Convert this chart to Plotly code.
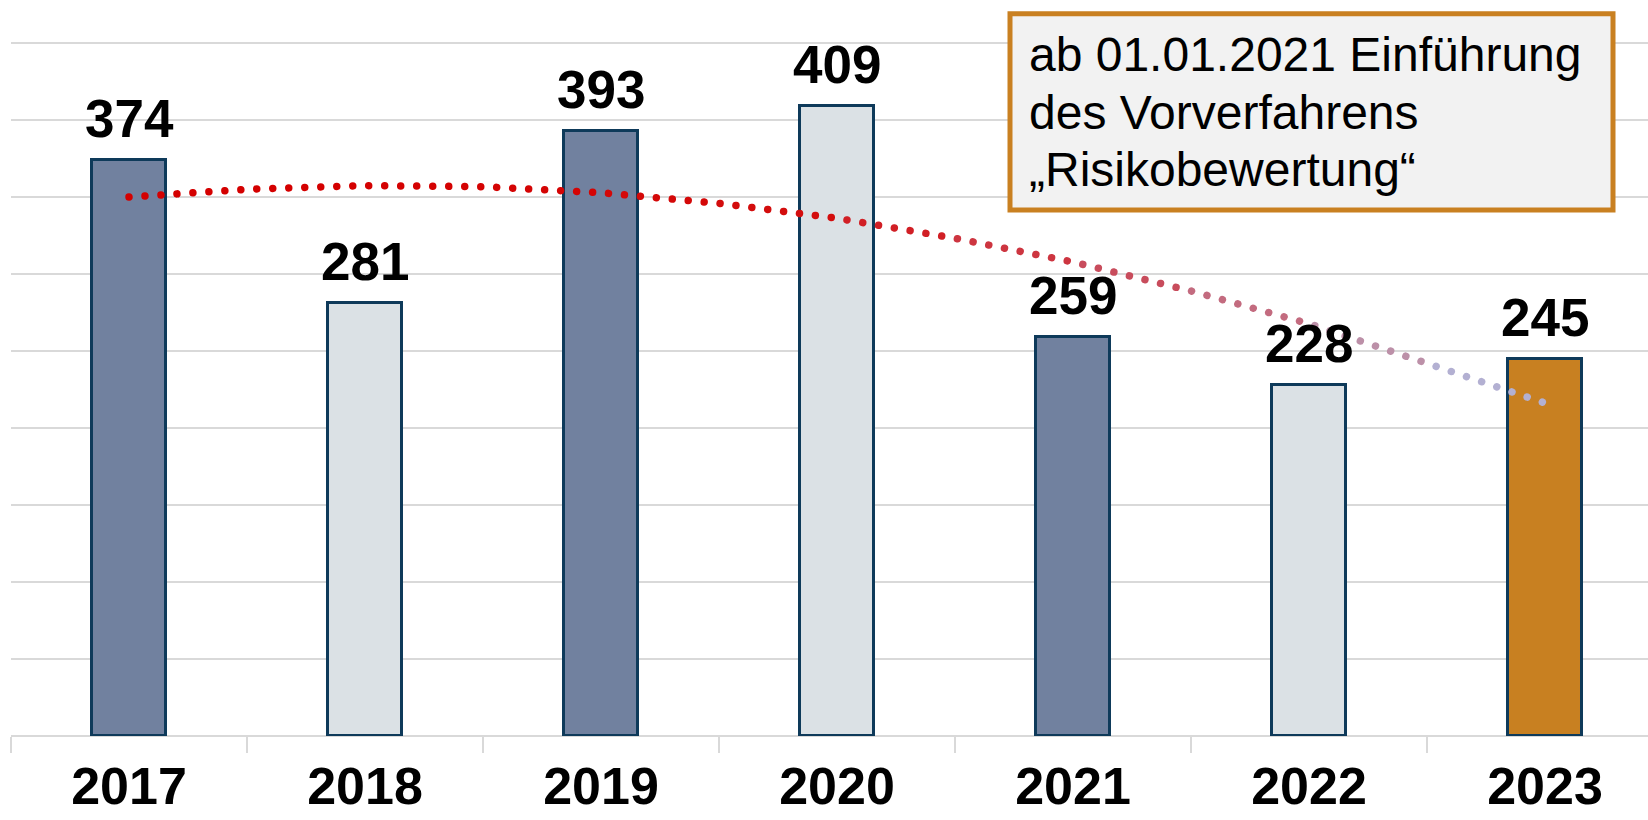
import plotly.graph_objects as go

# Cases per year
years = [2017, 2018, 2019, 2020, 2021, 2022, 2023]
year_labels = ["2017", "2018", "2019", "2020", "2021", "2022", "2023"]
cases = [374, 281, 393, 409, 259, 228, 245]
bar_fills = ["#71819f", "#dbe1e5", "#71819f", "#dbe1e5", "#71819f", "#dbe1e5", "#c88021"]

# Trend curve, sampled every half year
trend_x = [2017, 2017.5, 2018, 2018.5, 2019, 2019.5, 2020, 2020.5, 2021, 2021.5, 2022, 2022.5, 2023]
trend_y = [350, 355, 357.4, 356.7, 352.8, 345.9, 336.2, 323.2, 307.8, 289, 267.7, 242, 216.2]
# colour of each trend piece (red fading to lavender)
trend_colors = ["#d40000", "#d40000", "#d40202", "#d40404", "#d40808", "#d30d0d",
                "#d11f25", "#cd3540", "#c84c5c", "#c36b7f", "#bc90a8", "#b3b0d2"]

note_lines = ["ab 01.01.2021 Einführung", "des Vorverfahrens", "„Risikobewertung“"]

W, H = 1648, 820
L, B = 11, 84
PX_PER_UNIT = 1.54
CAT_W = 236

fig = go.Figure()

fig.add_trace(go.Bar(
    x=years, y=cases, width=0.315,
    marker=dict(color=bar_fills, line=dict(color="#0e3a5a", width=3)),
    hoverinfo="skip", showlegend=False,
))

for i in range(len(trend_x) - 1):
    fig.add_trace(go.Scatter(
        x=trend_x[i:i + 2], y=trend_y[i:i + 2], mode="lines",
        line=dict(color=trend_colors[i], width=7.5, dash="dot"),
        hoverinfo="skip", showlegend=False,
    ))

font_bold = dict(family="Liberation Sans, Arial, sans-serif", size=53, color="#000000", weight="bold")
tick_font = dict(font_bold, size=52)

for yr, v in zip(years, cases):
    fig.add_annotation(x=yr, y=v, text=str(v), showarrow=False,
                       xanchor="center", yanchor="bottom", yshift=10, font=font_bold)

# note box
def px_x(p):
    return (p - L) / (W - L)

def px_y(p):
    return (H - B - p) / (H - B)

fig.add_shape(type="rect", xref="paper", yref="paper",
              x0=px_x(1010), x1=px_x(1613), y0=px_y(210), y1=px_y(13.8),
              line=dict(color="#c98021", width=5), fillcolor="#f2f2f2", layer="above")

note_font = dict(family="Liberation Sans, Arial, sans-serif", size=48, color="#000000")
for k, line in enumerate(note_lines):
    fig.add_annotation(xref="paper", yref="paper", x=px_x(1027), y=px_y(55 + 57.5 * k),
                       xanchor="left", yanchor="middle", align="left", showarrow=False,
                       text=line, font=note_font)

x_end = 2016.5 + (W - L) / CAT_W
y_top = (H - B) / PX_PER_UNIT

fig.update_layout(
    width=W, height=H,
    margin=dict(l=L, r=0, t=0, b=B, pad=0, autoexpand=False),
    paper_bgcolor="#ffffff", plot_bgcolor="#ffffff",
    bargap=0,
    xaxis=dict(
        range=[2016.5, x_end], tickvals=years, ticktext=year_labels,
        showgrid=False, zeroline=False, automargin=False,
        showline=False, ticks="", ticklabelstandoff=15,
        tickfont=tick_font,
        minor=dict(ticks="outside", ticklen=16, tickwidth=2, tickcolor="#d9d9d9",
                   tick0=2016.5, dtick=1, showgrid=False),
    ),
    yaxis=dict(
        range=[0, y_top], tick0=0, dtick=50, showticklabels=False, automargin=False,
        showgrid=True, gridcolor="#d9d9d9", gridwidth=2,
        zeroline=True, zerolinecolor="#d9d9d9", zerolinewidth=2,
    ),
)

post = """
(function(){
  var gd = document.getElementById('{plot_id}');
  function style(){
    var paths = gd.querySelectorAll('.scatterlayer .trace .js-line');
    var cum = 0;
    paths.forEach(function(p){
      var len = p.getTotalLength ? p.getTotalLength() : 0;
      // round dots, phase carried over so spacing stays even across pieces
      p.style.strokeLinecap = 'round';
      p.style.strokeDasharray = '0.01px,16px';
      var phase = (16 - (cum % 16)) % 16;
      p.style.strokeDashoffset = (-phase) + 'px';
      cum += len;
    });
  }
  style();
  gd.on && gd.on('plotly_afterplot', style);
})();
"""

fig.write_html("out.html", post_script=post)
